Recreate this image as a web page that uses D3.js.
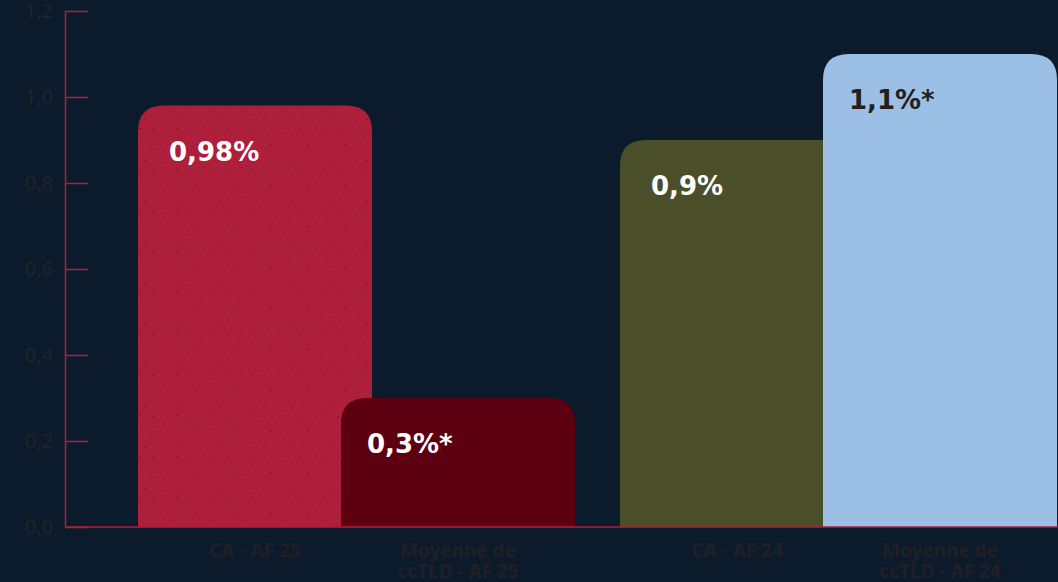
<!DOCTYPE html>
<html>
<head>
	<script src='https://d3js.org/d3.v7.min.js'></script>
	<style type="text/css">
		body { margin: 0; background: #0c1b2c; }
		svg { display: block; font-family: 'DejaVu Sans', sans-serif; }
	</style>
</head>
<body>
	<script type="text/javascript">
		// data
		var groups = ['AF 25', 'AF 24'];
		var series = ['CA', 'Moyenne'];
		var values = [[0.98, 0.3], [0.9, 1.1]];
		var valueLabels = [['0,98%', '0,3%*'], ['0,9%', '1,1%*']];
		var barNames = [['CA - AF 25', 'Moyenne de|ccTLD - AF 25'], ['CA - AF 24', 'Moyenne de|ccTLD - AF 24']];
		var yTicks = [0, 0.2, 0.4, 0.6, 0.8, 1.0, 1.2];

		var barFill = [['url(#speck)', '#5c0011'], ['#4a4f29', '#9bbfe5']];
		var labelFill = [['#ffffff', '#ffffff'], ['#ffffff', '#231f20']];

		var dim = { w: 1058, h: 582 };
		var axisX = 65, yBase = 527, yTop = 11;
		var barW = 234;

		var svg = d3.select('body')
			.append('svg')
				.attr('width', dim.w)
				.attr('height', dim.h);

		svg.append('rect')
			.attr('width', dim.w)
			.attr('height', dim.h)
			.attr('fill', '#0c1b2c');

		/** speckled fill for the first bar **/
		var pat = svg.append('defs').append('pattern')
			.attr('id', 'speck')
			.attr('patternUnits', 'userSpaceOnUse')
			.attr('width', 37)
			.attr('height', 41);
		pat.append('rect').attr('width', 37).attr('height', 41).attr('fill', '#ad1f3a');
		[[4, 6], [19, 3], [30, 14], [11, 21], [25, 28], [6, 34], [33, 37], [16, 12], [2, 25], [28, 5]]
			.forEach(function(p, i) {
				pat.append('rect')
					.attr('x', p[0]).attr('y', p[1])
					.attr('width', i % 3 === 0 ? 2 : 1)
					.attr('height', 1)
					.attr('fill', '#7a1129')
					.attr('opacity', 0.8);
			});

		var y = d3.scaleLinear()
			.domain([0, 1.2])
			.range([yBase, yTop]);

		var xGroup = d3.scaleBand()
			.domain(groups)
			.range([138, 1057])
			.paddingInner(45 / 482)
			.paddingOuter(0);

		var xSub = d3.scalePoint()
			.domain(series)
			.range([0, xGroup.bandwidth() - barW]);

		function topRounded(x, y0, w, h, r) {
			return 'M' + x + ',' + (y0 + h) +
				'V' + (y0 + r) +
				'Q' + x + ',' + y0 + ' ' + (x + r) + ',' + y0 +
				'H' + (x + w - r) +
				'Q' + (x + w) + ',' + y0 + ' ' + (x + w) + ',' + (y0 + r) +
				'V' + (y0 + h) + 'Z';
		}

		var bars = [];
		groups.forEach(function(g, gi) {
			series.forEach(function(s, si) {
				bars.push({ g: g, s: s, gi: gi, si: si, v: values[gi][si] });
			});
		});

		var barG = svg.append('g');
		barG.selectAll('path')
			.data(bars).enter()
			.append('path')
				.attr('d', function(d) {
					var x = xGroup(d.g) + xSub(d.s);
					return topRounded(x, y(d.v), barW, yBase - y(d.v), 26);
				})
				.attr('fill', function(d) { return barFill[d.gi][d.si]; });

		// second bar of each group has its label a bit further left
		barG.selectAll('text')
			.data(bars).enter()
			.append('text')
				.attr('x', function(d) { return xGroup(d.g) + xSub(d.s) + (d.si === 0 ? 31 : 26); })
				.attr('y', function(d) { return y(d.v) + 55; })
				.attr('fill', function(d) { return labelFill[d.gi][d.si]; })
				.style('font-size', '26px')
				.style('font-weight', 700)
				.text(function(d) { return valueLabels[d.gi][d.si]; });

		/** y axis **/
		var yAxis = d3.axisLeft(y)
			.tickValues(yTicks)
			.tickSizeInner(-23)
			.tickSizeOuter(0)
			.tickPadding(12)
			.tickFormat(function(d) { return d3.format('.1f')(d).replace('.', ','); });

		var ya = svg.append('g')
			.attr('transform', 'translate(' + axisX + ',0)')
			.call(yAxis);
		ya.selectAll('line, path').attr('stroke', '#b01e3a').attr('stroke-width', 1.5);
		ya.selectAll('text')
			.attr('fill', '#22222a')
			.style('font-size', '20px')
			.style('font-family', 'Noto Sans, sans-serif');

		/** baseline **/
		svg.append('line')
			.attr('x1', axisX).attr('x2', dim.w)
			.attr('y1', yBase).attr('y2', yBase)
			.attr('stroke', '#b01e3a')
			.attr('stroke-width', 1.5);

		/** category labels **/
		var cat = svg.append('g').selectAll('text')
			.data(bars).enter()
			.append('text')
				.attr('x', function(d) { return xGroup(d.g) + xSub(d.s) + barW / 2; })
				.attr('y', 557)
				.attr('text-anchor', 'middle')
				.attr('fill', '#211f26')
				.style('font-family', 'Noto Sans, sans-serif')
				.style('font-size', '19px')
				.style('font-weight', 700);
		cat.each(function(d) {
			var lines = barNames[d.gi][d.si].split('|');
			var t = d3.select(this);
			lines.forEach(function(l, i) {
				t.append('tspan')
					.attr('x', t.attr('x'))
					.attr('dy', i === 0 ? 0 : 21)
					.text(l);
			});
		});
	</script>
</body>
</html>
